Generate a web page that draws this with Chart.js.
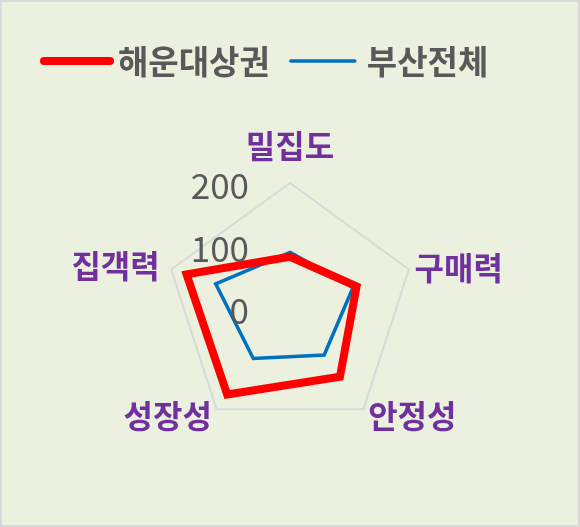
<!DOCTYPE html>
<html>
<head>
<meta charset="utf-8">
<script src="https://cdn.jsdelivr.net/npm/chart.js@4/dist/chart.umd.min.js"></script>
<style>
  html, body { margin: 0; padding: 0; background: #fff; }
  #wrap { width: 580px; height: 527px; box-sizing: border-box; border: 2px solid #d9d9d9; background: #ebf1de; position: relative; }
  canvas { position: absolute; left: -2px; top: -2px; }
</style>
</head>
<body>
<div id="wrap"><canvas id="myChart" width="580" height="527"></canvas></div>
<script>
var categories = ['밀집도', '구매력', '안정성', '성장성', '집객력']
var haeundae = [82, 112, 136, 171, 174]
var busan = [89, 106, 93, 100, 125]
var tickValues = [0, 100, 200]

// label offset past the outer ring, and text alignment, per axis
var labelGap = [37, 6, 8, 8, 12]
var labelAlign = ['center', 'left', 'left', 'right', 'right']

const font = "'Noto Sans CJK KR', 'Noto Sans', sans-serif"

const extras = {
    id: 'extras',
    afterDraw(chart) {
        const ctx = chart.ctx
        const scale = chart.scales.r
        ctx.save()

        // tick labels, left of the vertical axis
        ctx.font = '35px ' + font
        ctx.fillStyle = '#595959'
        ctx.textAlign = 'right'
        ctx.textBaseline = 'middle'
        tickValues.forEach(v => {
            const d = scale.getDistanceFromCenterForValue(v)
            ctx.fillText(String(v), scale.xCenter - 41, scale.yCenter - d + 3)
        })

        // axis names
        ctx.font = 'bold 32px ' + font
        ctx.fillStyle = '#7030a0'
        categories.forEach((c, i) => {
            const p = scale.getPointPosition(i, scale.drawingArea + labelGap[i])
            ctx.textAlign = labelAlign[i]
            ctx.fillText(c, p.x, p.y)
        })

        // legend
        let x = 44
        const y = 61
        chart.data.datasets.forEach((ds, i) => {
            const w = i == 0 ? 66 : 64
            ctx.beginPath()
            ctx.lineCap = 'round'
            ctx.lineWidth = ds.borderWidth
            ctx.strokeStyle = ds.borderColor
            ctx.moveTo(x, y)
            ctx.lineTo(x + w, y)
            ctx.stroke()
            x += w + (i == 0 ? 8 : 12)
            ctx.font = 'bold 33px ' + font
            ctx.fillStyle = '#595959'
            ctx.textAlign = 'left'
            ctx.textBaseline = 'middle'
            ctx.fillText(ds.label, x, y)
            x += ctx.measureText(ds.label).width + 21
        })
        ctx.restore()
    }
}

const ctx = document.getElementById('myChart')

var myChart = new Chart(ctx, {
    type: 'radar',
    data: {
        labels: categories,
        datasets: [{
            label: '해운대상권',
            data: haeundae,
            borderColor: '#ff0000',
            borderWidth: 8,
            borderJoinStyle: 'miter',
            fill: false,
            pointRadius: 0
        }, {
            label: '부산전체',
            data: busan,
            borderColor: '#0070c0',
            borderWidth: 3.5,
            borderJoinStyle: 'miter',
            fill: false,
            pointRadius: 0
        }]
    },
    options: {
        responsive: false,
        animation: false,
        layout: {
            padding: { left: 165, right: 165, top: 183, bottom: 93 }
        },
        plugins: {
            legend: { display: false },
            tooltip: { enabled: false }
        },
        scales: {
            r: {
                min: 0,
                max: 200,
                ticks: { display: false, stepSize: 100 },
                grid: {
                    color: (c) => c.tick && c.tick.value == 200 ? '#d9d9d9' : 'rgba(0,0,0,0)',
                    lineWidth: 2
                },
                angleLines: { display: false },
                pointLabels: { display: false }
            }
        }
    },
    plugins: [extras]
});
</script>
</body>
</html>
